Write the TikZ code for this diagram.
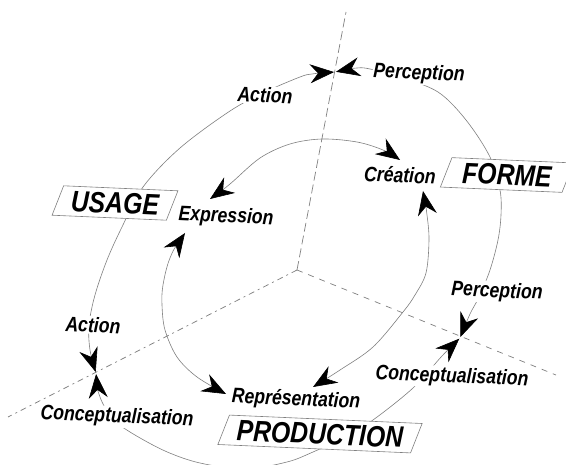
\documentclass[tikz,border=0pt]{standalone}
\usepackage{fontspec}
\setmainfont{Liberation Sans}[FakeStretch=0.84]
\usetikzlibrary{arrows.meta,shapes.geometric}
\tikzset{
  >={Stealth[length=24pt,width=19pt,inset=8pt,color=black]},
  lab/.style={font=\fontsize{21}{22}\selectfont\bfseries\itshape, inner sep=1pt, rotate=-2.5},
  onarc/.style={lab, fill=white},
  bigbox/.style={trapezium, trapezium left angle=71, trapezium right angle=109,
    draw=black!50, line width=0.6pt, fill=white,
    font=\fontsize{29.5}{30}\selectfont\bfseries\itshape,
    inner xsep=8pt, inner ysep=4.5pt, rotate=-2.5},
  ring/.style={draw=black!50, line width=0.6pt},
  axisline/.style={draw=black!50, line width=0.7pt},
}
\begin{document}
\begin{tikzpicture}[x=1pt,y=-1pt]
\useasboundingbox (0,0) rectangle (566,465);
\fill[white] (0,0) rectangle (566,465);

% crossing points and axis ends
\coordinate (O) at (297,270);
\coordinate (T) at (335,72);
\coordinate (L) at (96,373);
\coordinate (R) at (460,338);
\coordinate (Atop) at (346,12);
\coordinate (Aleft) at (8,417);
\coordinate (Aright) at (556,375);

% inner arc tip points
\coordinate (e1) at (210,199);
\coordinate (c1) at (400,160);
\coordinate (c2) at (423,191);
\coordinate (r2) at (313,387);
\coordinate (e2) at (185,233);
\coordinate (r1) at (226,394);

% outer ring: three double arcs
\draw[ring,<->,shorten <=1pt,shorten >=1pt] plot[smooth,tension=0.55] coordinates
  {(T) (312,74) (300,77) (265,92) (230,111) (180,148) (143,187) (122,227) (107,260) (95,295) (89,325) (90,350) (L)};
\draw[ring,<->,shorten <=1pt,shorten >=1pt] plot[smooth,tension=0.55] coordinates
  {(T) (357,68) (370,69) (400,77) (438,92) (466,120) (490,157) (500,190) (501,215) (498,240) (490,270) (479,297) (470,314) (R)};
\draw[ring,<->,shorten <=1pt,shorten >=1pt] plot[smooth,tension=0.55] coordinates
  {(L) (100,397) (112,418) (130,432) (165,451) (200,463) (245,469) (287,462) (313,452) (345,437) (373,420) (413,388) (442,356) (R)};

% inner ring: three double arcs
\draw[ring,<->] plot[smooth,tension=0.55] coordinates
  {(e1) (230,184) (260,158) (290,144) (322,139) (357,142) (383,150) (c1)};
\draw[ring,<->] plot[smooth,tension=0.55] coordinates
  {(c2) (427,215) (429,240) (426,273) (415,295) (403,312) (373,347) (340,370) (r2)};
\draw[ring,<->] plot[smooth,tension=0.55] coordinates
  {(e2) (170,258) (163,285) (162,305) (165,330) (177,357) (197,377) (r1)};

% labels on the outer ring
\node[onarc] (actT) at (265,95) {Action};
\node[onarc] (percT) at (419,74) {Perception};
\node[onarc] (actL) at (93,325) {Action};
\node[onarc] (percR) at (497,292) {Perception};
\node[onarc] (concR) at (452,377) {Conceptualisation};
\node[onarc] (concL) at (117,417) {Conceptualisation};

% labels of the inner ring
\node[lab] (crea) at (400,175) {Création};
\node[lab] (expr) at (226,217) {Expression};
\node[lab] (repr) at (296,400) {Représentation};

% boxes
\node[bigbox] (usage) at (115,203) {USAGE};
\node[bigbox, inner xsep=11pt] (forme) at (507,175) {FORME};
\node[bigbox] (prod) at (320,434) {PRODUCTION};

% axes
\draw[axisline, dash pattern=on 9pt off 4pt] (O) -- (Atop);
\draw[axisline, dash pattern=on 6pt off 4pt on 2pt off 4pt] (O) -- (Aleft);
\draw[axisline, dash pattern=on 6pt off 6pt] (O) -- (Aright);
\end{tikzpicture}
\end{document}
